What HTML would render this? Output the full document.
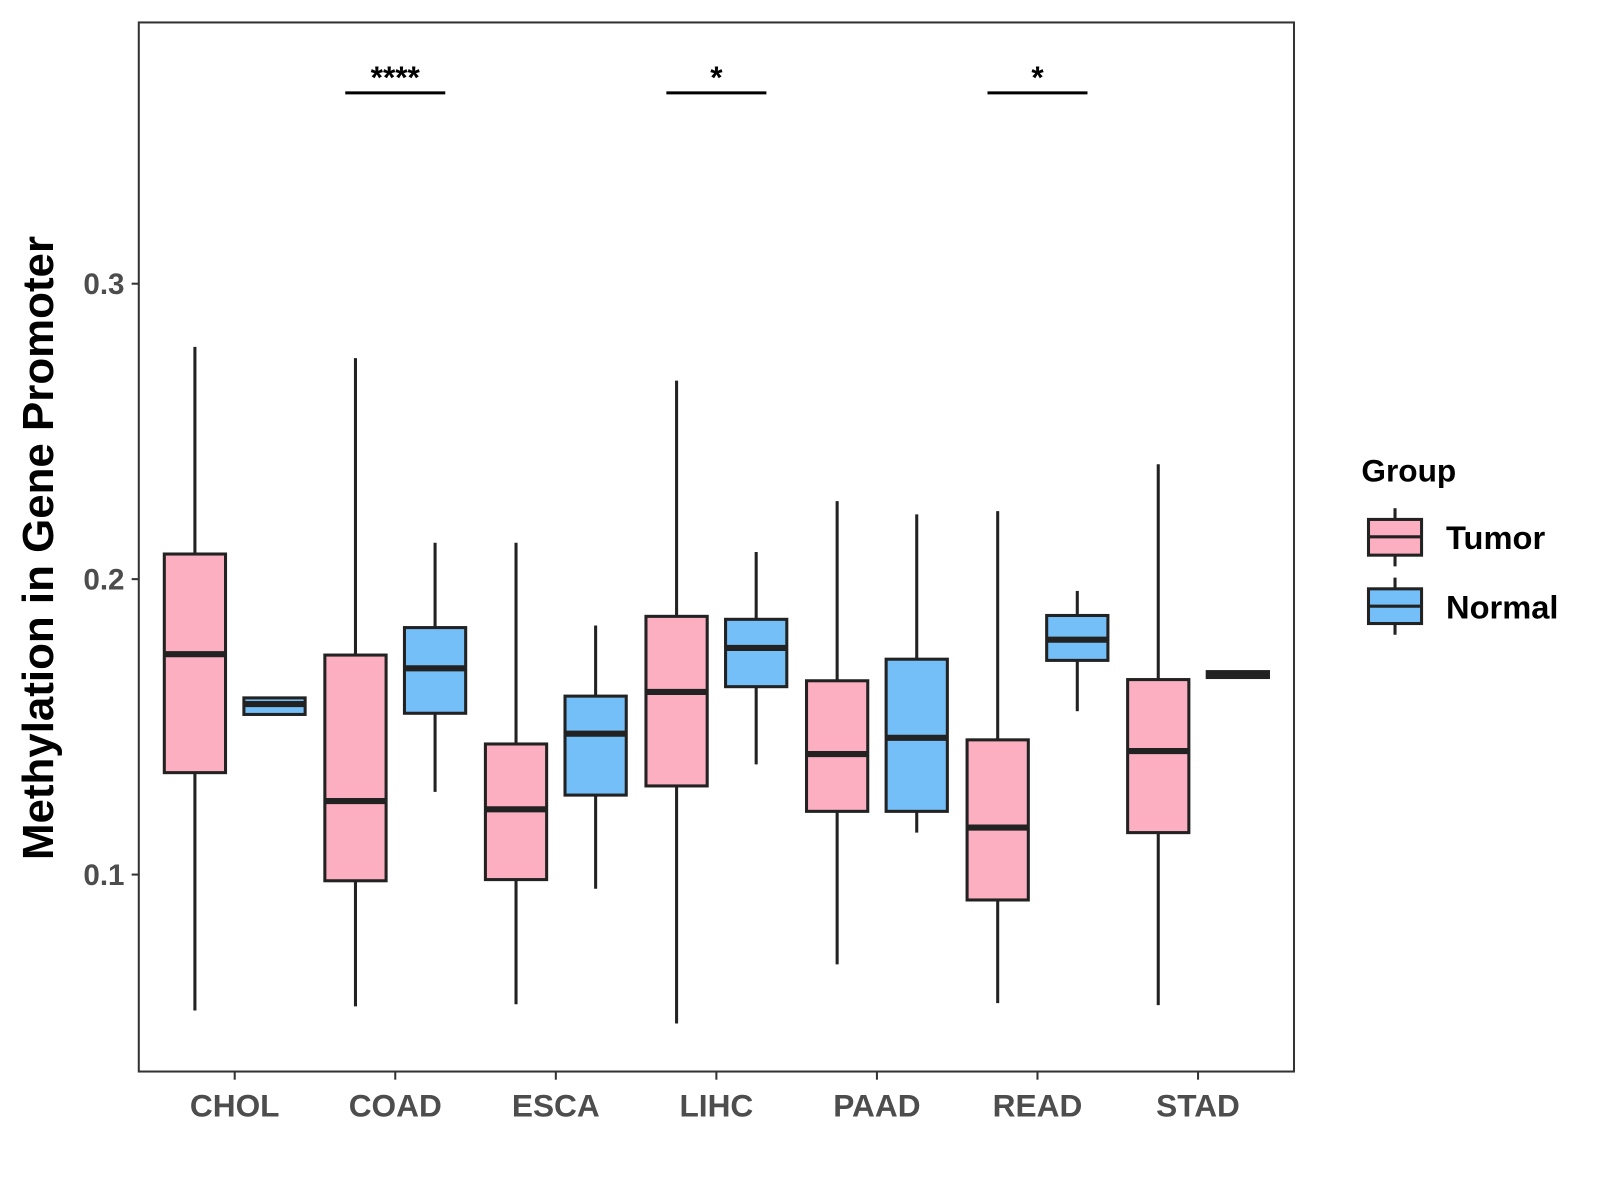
<!DOCTYPE html>
<html><head><meta charset="utf-8"><style>body{margin:0;background:#fff}svg{display:block}text{font-family:"Liberation Sans",Arial,sans-serif;font-weight:bold}</style></head>
<body>
<svg id="chart" width="1600" height="1200" viewBox="0 0 1600 1200" xmlns="http://www.w3.org/2000/svg">
<g transform="scale(1.0205)">
<rect x="136" y="22" width="1132" height="1028" fill="#fff" stroke="#333" stroke-width="2"/>
<g id="marks"></g>
<text transform="translate(52,537) rotate(-90)" text-anchor="middle" font-size="43" fill="#000">Methylation in Gene Promoter</text>
<g>
<text x="1334" y="472" font-size="31" fill="#000">Group</text>
<g>
<line x1="1367" y1="498" x2="1367" y2="555" stroke="#222" stroke-width="3"/>
<rect x="1341" y="509" width="52" height="35" fill="#FBAFC1" stroke="#222" stroke-width="3"/>
<line x1="1341" y1="526" x2="1393" y2="526" stroke="#222" stroke-width="3"/>
<text x="1417" y="538" font-size="32" fill="#000">Tumor</text></g>
<g>
<line x1="1367" y1="566" x2="1367" y2="622" stroke="#222" stroke-width="3"/>
<rect x="1341" y="577" width="52" height="34" fill="#74BFF7" stroke="#222" stroke-width="3"/>
<line x1="1341" y1="594" x2="1393" y2="594" stroke="#222" stroke-width="3"/>
<text x="1417" y="606" font-size="32" fill="#000">Normal</text></g>
</g>
</g>
</svg>
<script>
const categories=["CHOL","COAD","ESCA","LIHC","PAAD","READ","STAD"];
const tumorMin=[0.054,0.0554,0.0561,0.0496,0.0696,0.0565,0.0558];
const tumorQ1=[0.1345,0.0979,0.0983,0.130,0.1214,0.0914,0.1142];
const tumorMed=[0.1746,0.1249,0.1221,0.1618,0.1408,0.1159,0.1418];
const tumorQ3=[0.2085,0.1743,0.1442,0.1874,0.1656,0.1456,0.166];
const tumorMax=[0.2786,0.2748,0.2123,0.2672,0.2264,0.223,0.2389];
const normalMin=[0.1542,0.128,0.0952,0.1373,0.1142,0.1553,0.1667];
const normalQ1=[0.1542,0.1546,0.1269,0.1636,0.1214,0.1725,0.1667];
const normalMed=[0.1577,0.1698,0.1477,0.1767,0.1463,0.1795,0.1677];
const normalQ3=[0.1598,0.1836,0.1604,0.1864,0.1729,0.1877,0.1687];
const normalMax=[0.1598,0.2123,0.1843,0.2092,0.2219,0.196,0.1687];
const yTicks=[0.1,0.2,0.3];
const yTickLabels=["0.1","0.2","0.3"];
const sigCategories=["COAD","LIHC","READ"];
const sigLabels=["****","*","*"];

const NS="http://www.w3.org/2000/svg";
const g=document.getElementById("marks");
const y=v=>857-(v-0.1)*2895;
const x=i=>230+i*157.33;
function mk(tag,attrs){const e=document.createElementNS(NS,tag);for(const k in attrs)e.setAttribute(k,attrs[k]);g.appendChild(e);return e;}
yTicks.forEach((t,i)=>{
  const l=mk("line",{x1:129,x2:136,y1:y(t),y2:y(t),stroke:"#333","stroke-width":2});
  
  
  const tx=mk("text",{x:122,y:y(t)+10,"text-anchor":"end","font-size":29,fill:"#4d4d4d"});
  tx.textContent=yTickLabels[i];
  
  
});
categories.forEach((c,i)=>{
  const l=mk("line",{x1:x(i),x2:x(i),y1:1050,y2:1058,stroke:"#333","stroke-width":2});
  
  
  const tx=mk("text",{x:x(i),y:1094,"text-anchor":"middle","font-size":31,fill:"#4d4d4d"});
  tx.textContent=c;
  
  
});
function box(cx,mn,q1,md,q3,mx,fill,name){
  const w=30;
  const a=mk("line",{x1:cx,x2:cx,y1:y(mx),y2:y(q3),stroke:"#222","stroke-width":3});
  
  
  const b=mk("line",{x1:cx,x2:cx,y1:y(q1),y2:y(mn),stroke:"#222","stroke-width":3});
  
  
  const r=mk("rect",{x:cx-w,y:y(q3),width:2*w,height:Math.max(0,y(q1)-y(q3)),fill:fill,stroke:"#222","stroke-width":3});
  
  
  const m=mk("line",{x1:cx-w,x2:cx+w,y1:y(md),y2:y(md),stroke:"#222","stroke-width":6});
  
  
}
categories.forEach((c,i)=>{
  box(x(i)-39,tumorMin[i],tumorQ1[i],tumorMed[i],tumorQ3[i],tumorMax[i],"#FBAFC1",c.toLowerCase()+"-tumor");
  box(x(i)+39,normalMin[i],normalQ1[i],normalMed[i],normalQ3[i],normalMax[i],"#74BFF7",c.toLowerCase()+"-normal");
});
sigCategories.forEach((c,k)=>{
  const i=categories.indexOf(c);
  const l=mk("line",{x1:x(i)-49,x2:x(i)+49,y1:91,y2:91,stroke:"#000","stroke-width":3});
  
  
  const t=mk("text",{x:x(i),y:86,"text-anchor":"middle","font-size":31,fill:"#000"});
  t.textContent=sigLabels[k];
  
  
});
</script>
</body></html>
